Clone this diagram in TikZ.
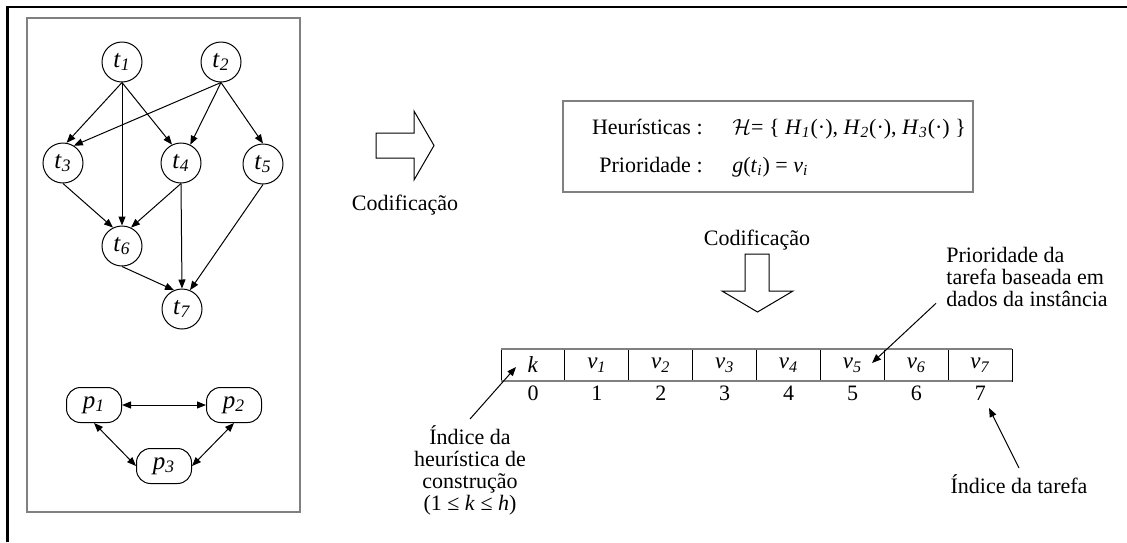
\documentclass[tikz,border=0pt]{standalone}
\usepackage{fontspec}
\setmainfont{Liberation Serif}
\usetikzlibrary{positioning,arrows.meta}

\newcommand{\isub}[2]{\textit{#1}\textsubscript{\textit{#2}}}

\tikzset{
  task/.style={circle, draw, line width=0.5pt, minimum size=20pt, inner sep=0pt, font=\fontsize{12.5}{14}\selectfont},
  proc/.style={rectangle, rounded corners=7pt, draw, line width=0.5pt, minimum width=27.5pt, minimum height=17.5pt, inner sep=0pt, font=\fontsize{12.5}{14}\selectfont},
  cell/.style={rectangle, draw, line width=0.5pt, minimum width=31.95pt, minimum height=16pt, inner sep=0pt, outer sep=0pt, font=\fontsize{11.5}{13}\selectfont},
  idx/.style={inner sep=0pt, font=\fontsize{11}{11}\selectfont},
  note/.style={font=\fontsize{11}{11}\selectfont},
  dep/.style={-{Triangle[length=4.5pt,width=3.5pt]}, line width=0.5pt},
  link/.style={{Triangle[length=4.5pt,width=3.5pt]}-{Triangle[length=4.5pt,width=3.5pt]}, line width=0.5pt},
  panel/.style={draw=black!50, line width=0.75pt},
  blockarrow/.style={draw, line width=0.5pt, line join=miter}
}

\begin{document}
\begin{tikzpicture}[x=0.5pt, y=-0.5pt]
\useasboundingbox (0,0) rectangle (1127,542);
\draw[line width=1.25pt] (7.5,542) -- (7.5,7) -- (1127,7);

\draw[panel] (27,18) rectangle (300,512);
\node (t1) [task] at (122,62) {\isub{t}{1}};
\node (t2) [task] at (221,62) {\isub{t}{2}};
\node (t3) [task] at (63,163) {\isub{t}{3}};
\node (t4) [task] at (181,163) {\isub{t}{4}};
\node (t5) [task] at (263,164) {\isub{t}{5}};
\node (t6) [task] at (122,246) {\isub{t}{6}};
\node (t7) [task] at (182,309) {\isub{t}{7}};
\node (p1) [proc] at (94,405) {\isub{p}{1}};
\node (p2) [proc] at (234,405) {\isub{p}{2}};
\node (p3) [proc] at (164,466) {\isub{p}{3}};

\draw[dep] (t1.south) -- (t3.80);
\draw[dep] (t1.south) -- (t6.north);
\draw[dep] (t1.south) -- (t4.116);
\draw[dep] (t2.south) -- (t3.58);
\draw[dep] (t2.south) -- (t4.63);
\draw[dep] (t2.south) -- (t5.north);
\draw[dep] (t3.south) -- (t6.116);
\draw[dep] (t4.south) -- (t6.64);
\draw[dep] (t4.south) -- (t7.north);
\draw[dep] (t6.south) -- (t7.113);
\draw[dep] (t5.south) -- (t7.67);
\draw[link] (p1) -- (p2);
\draw[link] (p1.south) -- (p3.west);
\draw[link] (p2.south) -- (p3.east);

\draw[blockarrow] (376,133) -- (414,133) -- (414,111) -- (434,145.5) -- (414,180) -- (414,158) -- (376,158) -- cycle;
\node (enc1) [note, anchor=base] at (405,210) {Codificação};

\node (code) [panel, minimum width=205pt, minimum height=45.5pt] at (768,146.5) {};
\node (heurlbl) [note, inner sep=0pt, anchor=base east] at (703,134) {Heurísticas :};
\node (heurset) [note, inner sep=0pt, anchor=base west] at (732,134) {$\mathcal{H}$= \{ \isub{H}{1}(·), \isub{H}{2}(·), \isub{H}{3}(·) \}};
\node (priolbl) [note, inner sep=0pt, anchor=base east] at (703,172) {Prioridade :};
\node (prioeq) [note, inner sep=0pt, anchor=base west] at (732,172) {\textit{g}(\isub{t}{i}) = \isub{v}{i}};

\node (enc2) [note, anchor=base] at (757,245) {Codificação};
\draw[blockarrow] (745,254) -- (769,254) -- (769,291) -- (793,291) -- (757.5,312) -- (722,291) -- (745,291) -- cycle;

\node (c0) [cell] at (533,365) {\textit{k}};
\node (c1) [cell, right=0pt of c0] {\isub{v}{1}};
\node (c2) [cell, right=0pt of c1] {\isub{v}{2}};
\node (c3) [cell, right=0pt of c2] {\isub{v}{3}};
\node (c4) [cell, right=0pt of c3] {\isub{v}{4}};
\node (c5) [cell, right=0pt of c4] {\isub{v}{5}};
\node (c6) [cell, right=0pt of c5] {\isub{v}{6}};
\node (c7) [cell, right=0pt of c6] {\isub{v}{7}};
\draw[draw=black!50, line width=1pt] (c0.north west) -- (c7.north east);
\draw[draw=black!50, line width=1pt] (c0.south west) -- (c7.south east);

\node (n0) [idx, below=2.3pt of c0] {0};
\node (n1) [idx, below=2.3pt of c1] {1};
\node (n2) [idx, below=2.3pt of c2] {2};
\node (n3) [idx, below=2.3pt of c3] {3};
\node (n4) [idx, below=2.3pt of c4] {4};
\node (n5) [idx, below=2.3pt of c5] {5};
\node (n6) [idx, below=2.3pt of c6] {6};
\node (n7) [idx, below=2.3pt of c7] {7};

\node (priotxt) [note, align=left, anchor=north west, inner sep=2pt] at (942,243) {Prioridade da\\tarefa baseada em\\dados da instância};
\node (kidx) [note, align=center, anchor=north] at (470,419) {Índice da\\heurística de\\construção\\(1 ≤ \textit{k} ≤ \textit{h})};
\node (tidx) [note, anchor=north] at (1019,468) {Índice da tarefa};
\coordinate (kpt) at (516,367);
\coordinate (vpt) at (872,363);
\coordinate (tpt) at (989,408);
\draw[dep] ([xshift=-3pt,yshift=4pt]priotxt.south west) -- (vpt);
\draw[dep] (kidx.north) -- (kpt);
\draw[dep] (tidx.north) -- (tpt);
\end{tikzpicture}
\end{document}
